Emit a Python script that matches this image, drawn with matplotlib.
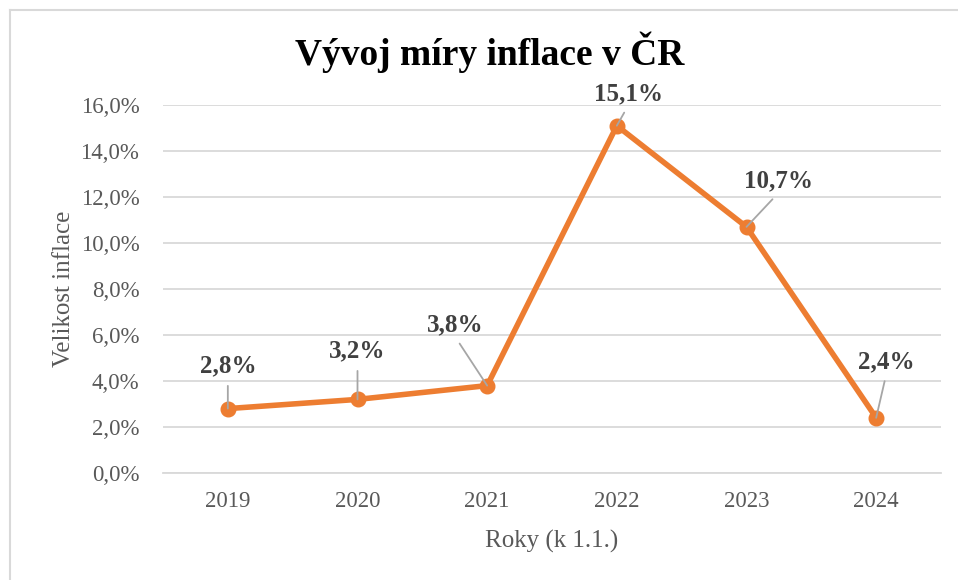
import matplotlib
matplotlib.use("Agg")
import matplotlib.pyplot as plt
from matplotlib.lines import Line2D

years = ["2019", "2020", "2021", "2022", "2023", "2024"]
inflation = [2.8, 3.2, 3.8, 15.1, 10.7, 2.4]
label_texts = ["2,8%", "3,2%", "3,8%", "15,1%", "10,7%", "2,4%"]
yticks = [0, 2, 4, 6, 8, 10, 12, 14, 16]
ytick_labels = ["0,0%", "2,0%", "4,0%", "6,0%", "8,0%", "10,0%", "12,0%", "14,0%", "16,0%"]

# label offsets (in data units: x categories, y percent)
label_offsets = [(0.0, 1.85), (0.0, 2.1), (-0.25, 2.65), (0.09, 1.4), (0.25, 2.0), (0.08, 2.45)]

plt.rcParams['font.family'] = ['Liberation Serif', 'DejaVu Serif']

fig = plt.figure(figsize=(9.58, 5.8), dpi=100)
W, H = 958, 580
left, right = 163 / W, 941 / W
bottom, top = 1 - 473 / H, 1 - 105 / H
ax = fig.add_axes([left, bottom, right - left, top - bottom])

x = list(range(len(years)))
ax.plot(x, inflation, color="#ED7D31", linewidth=4, marker="o", markersize=10.5,
        solid_capstyle="round", zorder=3)

ax.set_xlim(-0.5, len(years) - 0.5)
ax.set_ylim(0, 16)
ax.set_yticks(yticks)
ax.set_yticklabels(ytick_labels)
ax.set_xticks(x)
ax.set_xticklabels(years)
ax.grid(axis="y", color="#D9D9D9", linewidth=1.3)
ax.set_axisbelow(True)
for s in ["top", "right", "left"]:
    ax.spines[s].set_visible(False)
ax.spines["bottom"].set_color("#D9D9D9")
ax.spines["bottom"].set_linewidth(1.3)
ax.tick_params(axis="both", length=0, labelsize=16.5, colors="#595959")
ax.tick_params(axis="y", pad=17)
ax.tick_params(axis="x", pad=13)

ax.set_xlabel("Roky (k 1.1.)", fontsize=18, color="#595959", labelpad=13)
ax.set_ylabel("Velikost inflace", fontsize=18, color="#595959", labelpad=4)

for xi, yi, txt, (dx, dy) in zip(x, inflation, label_texts, label_offsets):
    lx, ly = xi + dx, yi + dy
    ax.annotate(txt, xy=(xi, yi), xytext=(lx, ly), ha="center", va="center",
                fontsize=18, fontweight="bold", color="#404040",
                arrowprops=dict(arrowstyle="-", color="#A6A6A6", lw=1.3,
                                relpos=(0.5, 0.0), shrinkA=4, shrinkB=0), zorder=4)

fig.text(490 / W, 1 - 52 / H, "Vývoj míry inflace v ČR", ha="center", va="center",
         fontsize=27, fontweight="bold", color="black")

# chart frame (top and left edges visible)
fig.add_artist(Line2D([9.5 / W, 1.0], [1 - 9.5 / H, 1 - 9.5 / H], color="#D9D9D9",
                      lw=1.5, transform=fig.transFigure))
fig.add_artist(Line2D([9.5 / W, 9.5 / W], [0, 1 - 9.5 / H], color="#D9D9D9",
                      lw=1.5, transform=fig.transFigure))

fig.savefig("out.png", dpi=100, facecolor="white")
